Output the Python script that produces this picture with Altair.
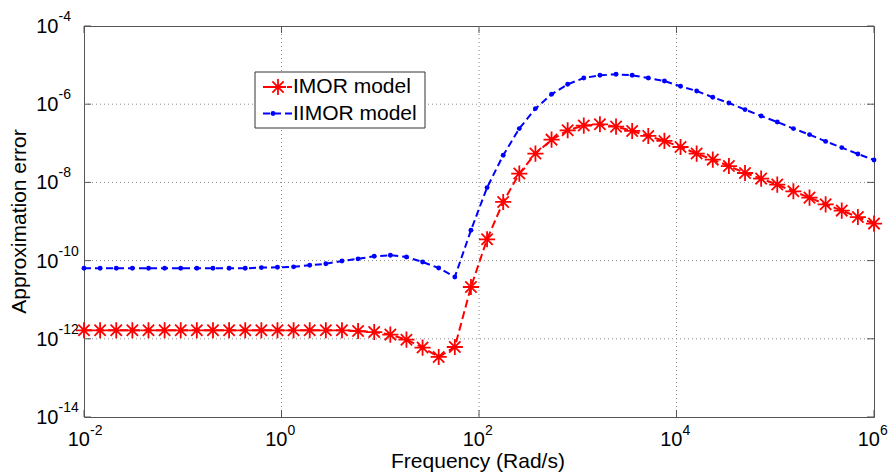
import altair as alt
import pandas as pd

# Frequency grid (rad/s), 50 log-spaced samples from 1e-2 to 1e6
freq = [
    0.01, 0.01456, 0.02121, 0.03089, 0.04498, 0.06551, 0.09541, 0.1389, 0.2024, 0.2947,
    0.4292, 0.6251, 0.9103, 1.326, 1.931, 2.812, 4.095, 5.964, 8.685, 12.65,
    18.42, 26.83, 39.07, 56.90, 82.86, 120.7, 175.8, 255.9, 372.8, 542.9,
    790.6, 1151, 1677, 2442, 3556, 5179, 7543, 10985, 15999, 23300,
    33932, 49417, 71969, 104811, 152642, 222300, 323746, 471487, 686649, 1000000,
]

# Approximation error of the two reduced-order models
imor_err = [
    1.65e-12, 1.65e-12, 1.65e-12, 1.65e-12, 1.65e-12, 1.65e-12, 1.65e-12, 1.65e-12, 1.65e-12, 1.65e-12,
    1.65e-12, 1.65e-12, 1.65e-12, 1.65e-12, 1.65e-12, 1.65e-12, 1.65e-12, 1.58e-12, 1.49e-12, 1.28e-12,
    9.5e-13, 5.96e-13, 3.43e-13, 6.17e-13, 2.11e-11, 3.51e-10, 3.16e-9, 1.68e-8, 5.46e-8, 1.24e-7,
    2.15e-7, 2.84e-7, 3.06e-7, 2.67e-7, 2.07e-7, 1.54e-7, 1.15e-7, 8.04e-8, 5.46e-8, 3.83e-8,
    2.62e-8, 1.74e-8, 1.25e-8, 8.79e-9, 5.92e-9, 4.08e-9, 2.75e-9, 1.90e-9, 1.30e-9, 8.83e-10,
]
iimor_err = [
    6.35e-11, 6.35e-11, 6.35e-11, 6.35e-11, 6.35e-11, 6.35e-11, 6.35e-11, 6.35e-11, 6.35e-11, 6.35e-11,
    6.35e-11, 6.62e-11, 6.75e-11, 6.93e-11, 7.59e-11, 8.28e-11, 9.77e-11, 1.11e-10, 1.29e-10, 1.37e-10,
    1.24e-10, 9.2e-11, 6.47e-11, 3.81e-11, 5.96e-10, 7.36e-9, 4.93e-8, 2.38e-7, 7.71e-7, 1.79e-6,
    3.23e-6, 4.68e-6, 5.48e-6, 5.82e-6, 5.48e-6, 4.68e-6, 3.92e-6, 2.87e-6, 2.18e-6, 1.50e-6,
    1.07e-6, 7.28e-7, 4.99e-7, 3.51e-7, 2.38e-7, 1.67e-7, 1.12e-7, 7.76e-8, 5.32e-8, 3.74e-8,
]

series_names = ["IMOR model", "IIMOR model"]
series_colors = ["#ff0000", "#0000ff"]

x_tick_values = [1e-2, 1e0, 1e2, 1e4, 1e6]
x_tick_exps = ["-2", "0", "2", "4", "6"]
y_tick_values = [1e-14, 1e-12, 1e-10, 1e-8, 1e-6, 1e-4]
y_tick_exps = ["-14", "-12", "-10", "-8", "-6", "-4"]

x_title = "Frequency (Rad/s)"
y_title = "Approximation error"

W, H = 790, 391
FONT = "Liberation Sans"
FRAME = "#555555"
GRID = "#8a8a8a"
BASE_SIZE = 20
EXP_SIZE = 14
TITLE_SIZE = 21

# Asterisk marker (8 arms) as a custom symbol path
STAR = "M0,-1L0,1M-1,0L1,0M-0.7,-0.7L0.7,0.7M-0.7,0.7L0.7,-0.7"
STAR_SIZE = 260
STAR_W = 1.8

xs = alt.Scale(type="log", domain=[1e-2, 1e6])
ys = alt.Scale(type="log", domain=[1e-14, 1e-4])

df = pd.DataFrame({"freq": freq, "imor": imor_err, "iimor": iimor_err})
xt = pd.DataFrame({"v": x_tick_values, "e": x_tick_exps, "b": ["10"] * len(x_tick_values)})
yt = pd.DataFrame({"v": y_tick_values, "e": y_tick_exps, "b": ["10"] * len(y_tick_values)})
xg = xt[(xt.v > 1e-2) & (xt.v < 1e6)]
yg = yt[(yt.v > 1e-14) & (yt.v < 1e-4)]

X = alt.X("freq:Q", scale=xs, axis=None)

# dotted grid
grid_x = alt.Chart(xg).mark_rule(color=GRID, strokeDash=[1, 3], strokeWidth=1).encode(
    x=alt.X("v:Q", scale=xs, axis=None), y=alt.value(0), y2=alt.value(H))
grid_y = alt.Chart(yg).mark_rule(color=GRID, strokeDash=[1, 3], strokeWidth=1).encode(
    y=alt.Y("v:Q", scale=ys, axis=None), x=alt.value(0), x2=alt.value(W))

# inward tick marks on all four sides
TL = 7
ticks = []
for y0, y1 in [(H, H - TL), (0, TL)]:
    ticks.append(alt.Chart(xt).mark_rule(color=FRAME, strokeWidth=1).encode(
        x=alt.X("v:Q", scale=xs, axis=None), y=alt.value(y0), y2=alt.value(y1)))
for x0, x1 in [(0, TL), (W, W - TL)]:
    ticks.append(alt.Chart(yt).mark_rule(color=FRAME, strokeWidth=1).encode(
        y=alt.Y("v:Q", scale=ys, axis=None), x=alt.value(x0), x2=alt.value(x1)))

# data series
red_line = alt.Chart(df).mark_line(color=series_colors[0], strokeWidth=2, strokeDash=[8, 4]).encode(
    x=X, y=alt.Y("imor:Q", scale=ys, axis=None))
red_pts = alt.Chart(df).mark_point(shape=STAR, size=STAR_SIZE, filled=False, color=series_colors[0],
                                   strokeWidth=STAR_W, opacity=1).encode(
    x=X, y=alt.Y("imor:Q", scale=ys, axis=None))
blue_line = alt.Chart(df).mark_line(color=series_colors[1], strokeWidth=2, strokeDash=[7, 4]).encode(
    x=X, y=alt.Y("iimor:Q", scale=ys, axis=None))
blue_pts = alt.Chart(df).mark_point(shape="circle", size=24, filled=True, color=series_colors[1],
                                    opacity=1).encode(
    x=X, y=alt.Y("iimor:Q", scale=ys, axis=None))

# tick labels: base "10" plus superscript exponent
DX = 6
x_base = alt.Chart(xt).mark_text(font=FONT, fontSize=BASE_SIZE, align="right", baseline="alphabetic",
                                 dx=DX, color="black").encode(
    x=alt.X("v:Q", scale=xs, axis=None), y=alt.value(H + 29), text="b:N")
x_exp = alt.Chart(xt).mark_text(font=FONT, fontSize=EXP_SIZE, align="left", baseline="alphabetic",
                                dx=DX, color="black").encode(
    x=alt.X("v:Q", scale=xs, axis=None), y=alt.value(H + 18), text="e:N")
YLX = -25.5
y_base = alt.Chart(yt).mark_text(font=FONT, fontSize=BASE_SIZE, align="right", baseline="alphabetic",
                                 dy=7, color="black").encode(
    y=alt.Y("v:Q", scale=ys, axis=None), x=alt.value(YLX), text="b:N")
y_exp = alt.Chart(yt).mark_text(font=FONT, fontSize=EXP_SIZE, align="left", baseline="alphabetic",
                                dy=-5, color="black").encode(
    y=alt.Y("v:Q", scale=ys, axis=None), x=alt.value(YLX), text="e:N")

# axis titles
titles = pd.DataFrame({"t": [x_title, y_title]})
x_ttl = alt.Chart(titles).transform_filter(alt.datum.t == x_title).mark_text(
    font=FONT, fontSize=TITLE_SIZE, align="center", baseline="middle", color="black").encode(
    x=alt.value(W / 2 - 1), y=alt.value(H + 45), text="t:N")
y_ttl = alt.Chart(titles).transform_filter(alt.datum.t == y_title).mark_text(
    font=FONT, fontSize=TITLE_SIZE, align="center", baseline="middle", angle=270, color="black").encode(
    x=alt.value(-64), y=alt.value(H / 2), text="t:N")

# legend box with line/marker samples
LX0, LX1, LY0, LY1 = 171, 341, 46, 102
ROWS = [61, 87.5]
leg_df = pd.DataFrame({"name": series_names, "color": series_colors})
legend = [alt.Chart(leg_df).transform_filter(alt.datum.name == series_names[0]).mark_rect(
    fill="white", stroke="#333333", strokeWidth=1).encode(
    x=alt.value(LX0), x2=alt.value(LX1), y=alt.value(LY0), y2=alt.value(LY1))]
for i, name in enumerate(series_names):
    row = alt.Chart(leg_df).transform_filter(alt.datum.name == name)
    legend.append(row.mark_rule(color=series_colors[i], strokeWidth=2,
                                strokeDash=[8, 4] if i == 0 else [7, 4]).encode(
        x=alt.value(179), x2=alt.value(208), y=alt.value(ROWS[i])))
    if i == 0:
        legend.append(row.mark_point(shape=STAR, size=STAR_SIZE, filled=False, color=series_colors[i],
                                     strokeWidth=STAR_W, opacity=1).encode(
            x=alt.value(194), y=alt.value(ROWS[i])))
    else:
        legend.append(row.mark_point(shape="circle", size=24, filled=True, color=series_colors[i],
                                     opacity=1).encode(
            x=alt.value(189), y=alt.value(ROWS[i])))
    legend.append(row.mark_text(font=FONT, fontSize=TITLE_SIZE, align="left", baseline="middle",
                                color="black").encode(
        x=alt.value(209), y=alt.value(ROWS[i]), text="name:N"))

chart = alt.layer(
    grid_x, grid_y, blue_line, blue_pts, red_line, red_pts, *ticks,
    x_base, x_exp, y_base, y_exp, x_ttl, y_ttl, *legend,
).properties(
    width=W, height=H,
    padding={"left": 84, "top": 26, "right": 16, "bottom": 59},
    autosize=alt.AutoSizeParams(type="none"),
    background="white",
).configure_view(stroke=FRAME, strokeWidth=1)

chart.save("out.html", embed_options={"renderer": "svg", "actions": False})
